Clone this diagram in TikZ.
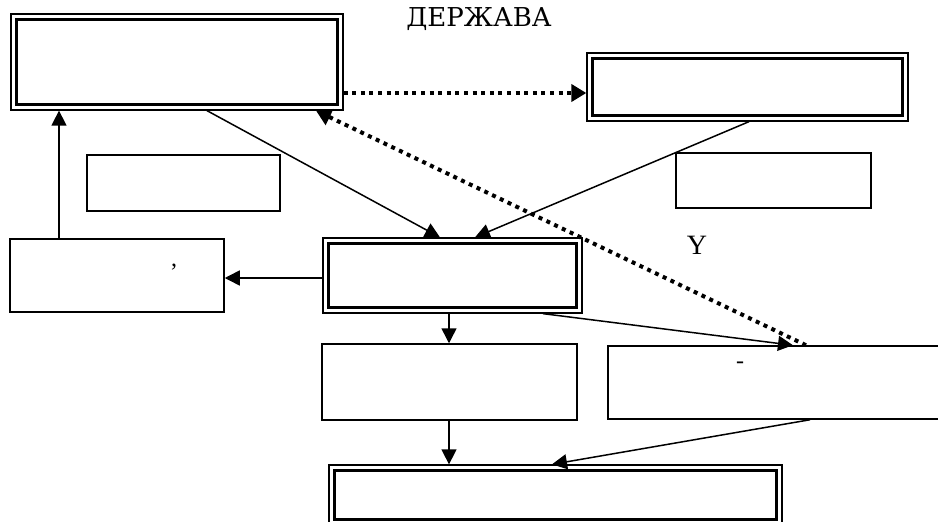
\documentclass[tikz,border=0pt]{standalone}
\usepackage{fontspec}
\setmainfont{Liberation Serif}
\newfontfamily\cyrserif{DejaVu Serif}
\usetikzlibrary{arrows.meta}
\tikzset{
  plainbox/.style={draw, line width=1.5pt, minimum width=#1, inner sep=0pt},
  outerbox/.style={draw, line width=1.3pt, inner sep=0pt},
  conn/.style={line width=1.5pt, -{Triangle[length=15pt,width=15pt]}},
  dotconn/.style={line width=4pt, dash pattern=on 4pt off 4.6pt, -{Triangle[length=15pt,width=17pt]}},
}
\newcommand{\innerframe}[2]{\draw[line width=2.5pt] ([shift={(#2pt,-#2pt)}]#1.north west) rectangle ([shift={(-#2pt,#2pt)}]#1.south east);}
\begin{document}
\begin{tikzpicture}[x=1pt,y=-1pt]
\useasboundingbox (0,0) rectangle (938,522);
% double boxes
\node[outerbox, minimum width=332pt, minimum height=96pt] (A) at (177,62) {};
\innerframe{A}{6}
\node[outerbox, minimum width=321pt, minimum height=68pt] (B) at (747.5,87) {};
\innerframe{B}{6}
\node[outerbox, minimum width=259pt, minimum height=75pt] (F) at (452.5,275.5) {};
\innerframe{F}{6}
\node[outerbox, minimum width=453pt, minimum height=60pt] (I) at (555.5,495) {};
\innerframe{I}{6}
% single boxes
\node[plainbox=193pt, minimum height=56pt] (C) at (183.5,183) {};
\node[plainbox=195pt, minimum height=55pt] (D) at (773.5,180.5) {};
\node[plainbox=214pt, minimum height=73pt] (E) at (117,275.5) {};
\node[plainbox=255pt, minimum height=76pt] (H) at (449.5,382) {};
\node[plainbox=337pt, minimum height=73pt] (G) at (776.5,382.5) {};
% texts
\node (title) at (479,19) {\cyrserif\fontsize{26pt}{30pt}\selectfont ДЕРЖАВА};
\node (ylab) at (697,245) {\fontsize{28pt}{32pt}\selectfont Y};
\node (comma) at (174,267) {\fontsize{24pt}{26pt}\selectfont ,};
\node (dash) at (740,365) {\fontsize{24pt}{26pt}\selectfont -};
% connectors
\draw[dotconn] (A.east |- 0,93) -- (B.west |- 0,93);
\draw[dotconn] (G.north -| 806,0) -- (A.south -| 316,0);
\draw[conn] (A.south -| 207,0) -- (F.north -| 440,0);
\draw[conn] (B.south -| 749,0) -- (F.north -| 475,0);
\draw[conn] (F.west |- 0,278) -- (E.east |- 0,278);
\draw[conn] (E.north -| 59,0) -- (A.south -| 59,0);
\draw[conn] (F.south -| 543,0) -- (G.north -| 793,0);
\draw[conn] (F.south -| 449,0) -- (H.north -| 449,0);
\draw[conn] (H.south -| 449,0) -- (I.north -| 449,0);
\draw[conn] (G.south -| 810,0) -- (I.north -| 552,0);
\end{tikzpicture}
\end{document}
